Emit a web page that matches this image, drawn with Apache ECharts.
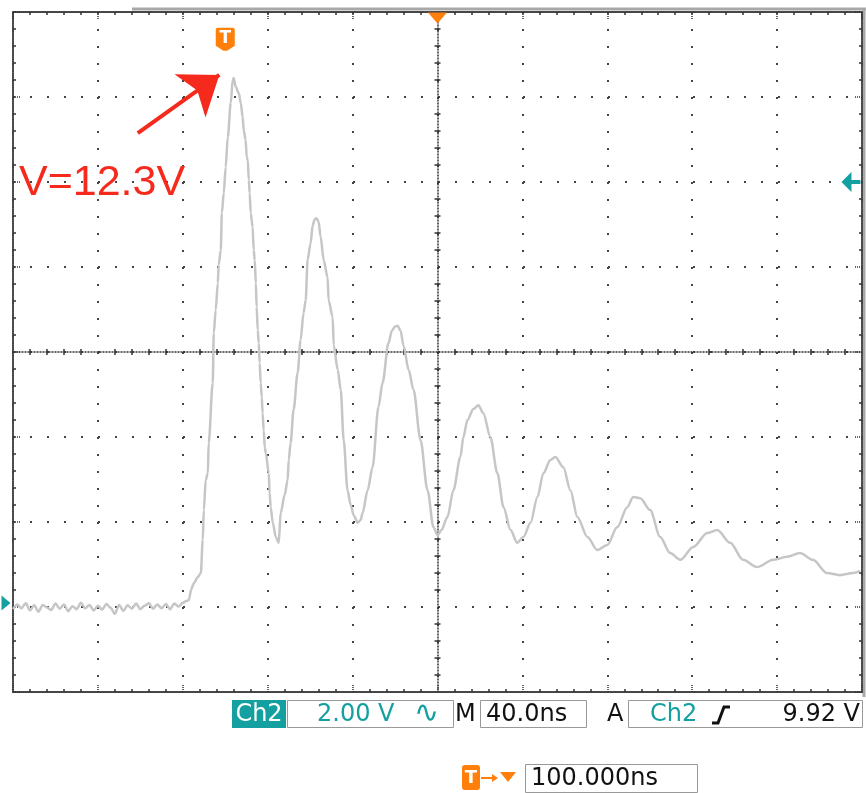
<!DOCTYPE html>
<html>
<head>
<meta charset="utf-8">
<script src="https://cdn.jsdelivr.net/npm/echarts@6/dist/echarts.min.js"></script>
<style>
html, body { margin: 0; padding: 0; background: #fff; }
#scope { width: 866px; height: 793px; }
</style>
</head>
<body>
<div id="scope"></div>
<script>
// Ch2 trace: [time ns, volts]  (40 ns/div, 2 V/div, ground 1 div above bottom)
var trace = [
  [0,-0.05],[2,0.06],[4,-0.03],[6,0.09],[8,-0.08],[10,0.04],[12,-0.11],[14,0.05],[16,-0.01],[18,-0.07],
  [20,0.08],[22,-0.04],[24,0.06],[26,-0.10],[28,0.02],[30,-0.05],[32,0.10],[34,-0.03],[36,0.05],[38,-0.08],
  [40,0.03],[42,-0.06],[44,0.07],[46,-0.02],[48,-0.16],[50,0.05],[52,-0.09],[54,0.04],[56,-0.04],[58,0.08],
  [60,-0.05],[62,0.03],[64,0.09],[66,-0.04],[68,0.06],[70,-0.03],[72,0.07],[74,-0.05],[76,0.08],[78,0.01],
  [80,0.10],[82,0.15],
  // first edge and peak
  [82.8,0.16],[84,0.42],[85.2,0.56],[87,0.70],[88.5,0.80],[89.4,1.58],[89.9,2.28],[90.8,2.99],[91.8,3.15],
  [92.2,3.86],[94.1,5.27],[94.6,6.45],[95.5,6.99],[96.5,7.62],[96.9,8.05],[97.9,8.40],[98.4,9.27],[99.3,9.74],
  [100.2,10.35],[101.2,11.06],[102.6,11.86],[103.5,12.40],[104.0,12.45],
  [104.9,12.24],[106.4,12.09],[107.3,11.86],[108.2,11.53],[108.7,11.22],[109.6,10.99],[110.1,10.59],
  [110.6,10.52],[111.1,10.05],[111.5,9.74],[112.0,9.27],[112.9,8.94],[113.4,8.40],[113.9,8.16],[114.4,7.62],
  [114.8,7.06],[115.3,6.52],[115.8,6.21],[116.2,5.74],[116.7,5.27],[117.2,4.94],[117.6,4.56],[118.1,4.16],
  [118.6,3.76],[119.1,3.62],[120.5,3.15],[120.9,2.68],[121.4,2.35],[122.4,1.98],[123.8,1.65],[125.2,1.51],
  // ringing
  [126.1,2.21],[128.0,2.64],[129.4,2.99],[129.9,3.46],[130.8,3.86],[132.2,4.64],[134.1,5.51],[135.5,6.28],
  [136.9,6.92],[137.9,7.22],[138.8,8.16],[140.2,8.56],[141.2,8.98],[142.1,9.12],[143.0,9.15],[144.0,9.06],[144.9,8.72],
  [146.4,8.16],[148.2,7.76],[148.7,7.22],[150.6,6.82],[151.1,6.16],[153.0,5.58],[154.4,5.11],[155.8,3.93],
  [157.6,2.75],[159.1,2.40],[160.5,2.16],[162.4,1.98],[163.8,2.05],[164.7,2.21],[167.1,2.75],[169.4,3.29],
  [172.2,4.71],[174.1,5.27],[176.9,6.21],[178.5,6.50],[180.0,6.60],[181.2,6.62],[182.6,6.50],[184.0,6.15],[186.4,5.58],
  [188.7,5.11],[192.0,3.93],[195.3,2.75],[198.1,1.88],[200.0,1.69],[201.9,1.81],[204.7,2.12],[207.5,2.75],
  [210.8,3.53],[212.2,4.00],[214.1,4.40],[216.9,4.66],[219.3,4.75],[221.6,4.56],[224.9,4.00],[228.2,3.15],
  [231.1,2.35],[234.4,1.81],[237.6,1.51],[240.5,1.65],[243.8,1.98],[247.1,2.59],[249.9,3.15],[253.2,3.46],
  [255.5,3.53],[259.3,3.29],[262.6,2.75],[265.9,2.12],[270.6,1.65],[275.3,1.34],[280.0,1.46],[284.7,1.88],
  [289.4,2.35],[292.2,2.59],[295.5,2.56],[300.2,2.28],[304.9,1.65],[309.6,1.27],[314.4,1.11],[320.5,1.41],
  [327.1,1.74],[331.8,1.81],[337.9,1.51],[344.0,1.11],[350.6,0.94],[358.1,1.11],[364.7,1.18],[370.8,1.27],
  [376.9,1.11],[383.5,0.80],[389.6,0.75],[395.8,0.80],[399.1,0.85]
];

var timeRange = [0, 400];   // ns, 10 div
var voltRange = [-2, 14];   // V, 8 div
var timeDiv = 40;
var voltDiv = 2;

var triggerTime = 100;      // T marker
var centerTime = 200;       // orange marker at top
var levelMark = 10.0;       // trigger level arrow on the right
var peakNote = "V=12.3V";
var arrowFrom = [58.8, 11.15];
var arrowTo = [97.2, 12.52];

var orange = "#ff7f0a";
var teal = "#14a0a0";
var scopeFont = "DejaVu Sans";

var broken = echarts.init(document.getElementById("scope"));

function frameAxis(dim, pos, extra) {
  var range = dim === "x" ? timeRange : voltRange;
  var ax = {
    type: "value",
    position: pos,
    min: range[0],
    max: range[1],
    interval: dim === "x" ? timeDiv : voltDiv,
    axisLine: { show: true, onZero: false, lineStyle: { color: "#444", width: 2, type: [1, 1] } },
    axisTick: { show: true, inside: true, length: 7, lineStyle: { color: "#333", width: 1.5, type: [1, 1] } },
    minorTick: { show: true, splitNumber: 5, length: 3, lineStyle: { color: "#333", width: 1.5 } },
    axisLabel: { show: false },
    splitLine: { show: false }
  };
  return Object.assign(ax, extra || {});
}

var dotted = { show: true, lineStyle: { color: "#444", width: 2, type: [2, 15] } };

var option = {
  animation: false,
  backgroundColor: "#fff",
  title: {
    text: peakNote,
    left: 19,
    top: 162,
    padding: 0,
    textStyle: { color: "#f52a1c", fontSize: 43, fontWeight: "normal", fontFamily: "Liberation Sans" }
  },
  grid: { left: 13, right: 4, top: 12, bottom: 101 },
  xAxis: [
    frameAxis("x", "bottom", { splitLine: dotted }),
    frameAxis("x", "top"),
    // centre line, ticks both sides
    frameAxis("x", "top", { offset: -340, axisTick: { show: false },
      axisLine: { show: true, onZero: false, lineStyle: { color: "#333", width: 1.5, type: [1, 2] } } }),
    frameAxis("x", "bottom", { offset: -340, axisLine: { show: false, onZero: false }, axisTick: { show: false } })
  ],
  yAxis: [
    frameAxis("y", "left", { splitLine: dotted }),
    frameAxis("y", "right"),
    frameAxis("y", "left", { offset: -424.5, axisTick: { show: false },
      axisLine: { show: true, onZero: false, lineStyle: { color: "#333", width: 1.5, type: [1, 2] } } }),
    frameAxis("y", "right", { offset: -424.5, axisLine: { show: false, onZero: false }, axisTick: { show: false } })
  ],
  series: [
    {
      name: "Ch2",
      type: "line",
      xAxisIndex: 0,
      yAxisIndex: 0,
      showSymbol: false,
      smooth: 0.3,
      smoothMonotone: "x",
      z: 5,
      lineStyle: { color: "#c6c6c6", width: 2.5 },
      data: trace,
      markPoint: {
        silent: true,
        label: { show: false },
        data: [
          {
            coord: [triggerTime, 13.36],
            symbol: "path://M2,0 H18 Q20,0 20,2 V18 L12,23 H8 L0,18 V2 Q0,0 2,0 Z",
            symbolSize: [19, 23],
            itemStyle: { color: orange },
            label: { show: true, formatter: "T", color: "#fff", fontSize: 17, fontWeight: "bold",
              fontFamily: scopeFont, position: "inside", offset: [0, -1] }
          },
          {
            coord: [centerTime, 13.86],
            symbol: "triangle",
            symbolRotate: 180,
            symbolSize: [19, 11],
            itemStyle: { color: orange }
          },
          {
            coord: [394.8, levelMark],
            symbol: "path://M0,10 L10,0 L10,8 L19,8 L19,12 L10,12 L10,20 Z",
            symbolSize: [19, 20],
            itemStyle: { color: teal }
          },
          {
            x: 6, y: 603,
            symbol: "triangle",
            symbolRotate: -90,
            symbolSize: [15, 9],
            itemStyle: { color: teal }
          }
        ]
      },
      markLine: {
        silent: true,
        symbol: ["none", "arrow"],
        symbolSize: [40, 36],
        label: { show: false },
        lineStyle: { color: "#f52a1c", width: 4, type: "solid" },
        data: [[{ coord: arrowFrom }, { coord: arrowTo }]]
      }
    }
  ],
  graphic: {
    elements: [
      // screen frame
      { type: "line", shape: { x1: 132, y1: 9, x2: 866, y2: 9 }, style: { stroke: "#a8a8a8", lineWidth: 3 } },
      { type: "line", shape: { x1: 864, y1: 9, x2: 864, y2: 697 }, style: { stroke: "#a8a8a8", lineWidth: 3 } },
      // status row
      { type: "rect", shape: { x: 232, y: 700, width: 54, height: 28 }, style: { fill: teal } },
      { type: "text", x: 259, y: 715, style: { text: "Ch2", fill: "#fff", font: "24px " + scopeFont, align: "center", verticalAlign: "middle" } },
      { type: "rect", shape: { x: 287.5, y: 700.5, width: 166, height: 27 }, style: { fill: "none", stroke: "#999", lineWidth: 1 } },
      { type: "text", x: 317, y: 715, style: { text: "2.00 V", fill: teal, font: "24px " + scopeFont, verticalAlign: "middle" } },
      { type: "text", x: 414, y: 714, style: { text: "\u223F", fill: teal, font: "30px " + scopeFont, verticalAlign: "middle" } },
      { type: "text", x: 455, y: 715, style: { text: "M", fill: "#111", font: "24px " + scopeFont, verticalAlign: "middle" } },
      { type: "rect", shape: { x: 480.5, y: 700.5, width: 106, height: 27 }, style: { fill: "none", stroke: "#999", lineWidth: 1 } },
      { type: "text", x: 486, y: 715, style: { text: "40.0ns", fill: "#111", font: "24px " + scopeFont, verticalAlign: "middle" } },
      { type: "text", x: 607, y: 715, style: { text: "A", fill: "#111", font: "24px " + scopeFont, verticalAlign: "middle" } },
      { type: "rect", shape: { x: 628.5, y: 700.5, width: 234, height: 27 }, style: { fill: "none", stroke: "#999", lineWidth: 1 } },
      { type: "text", x: 650, y: 715, style: { text: "Ch2", fill: teal, font: "24px " + scopeFont, verticalAlign: "middle" } },
      { type: "polyline", shape: { points: [[712, 723], [718, 723], [724, 707], [730, 707]] }, style: { stroke: "#111", lineWidth: 3, fill: "none" } },
      { type: "text", x: 860, y: 715, style: { text: "9.92 V", fill: "#111", font: "24px " + scopeFont, align: "right", verticalAlign: "middle" } },
      // delay row
      { type: "rect", shape: { x: 462, y: 765, width: 18, height: 25, r: 3 }, style: { fill: orange } },
      { type: "text", x: 471, y: 778, style: { text: "T", fill: "#fff", font: "bold 18px " + scopeFont, align: "center", verticalAlign: "middle" } },
      { type: "line", shape: { x1: 481, y1: 778, x2: 495, y2: 778 }, style: { stroke: orange, lineWidth: 2 } },
      { type: "polygon", shape: { points: [[492, 774], [498, 778], [492, 782]] }, style: { fill: orange } },
      { type: "polygon", shape: { points: [[500, 772], [516, 772], [508, 782]] }, style: { fill: orange } },
      { type: "rect", shape: { x: 525.5, y: 764.5, width: 172, height: 28 }, style: { fill: "none", stroke: "#999", lineWidth: 1 } },
      { type: "text", x: 531, y: 779, style: { text: "100.000ns", fill: "#111", font: "24px " + scopeFont, verticalAlign: "middle" } }
    ]
  }
};
broken.setOption(option);
</script>
</body>
</html>
